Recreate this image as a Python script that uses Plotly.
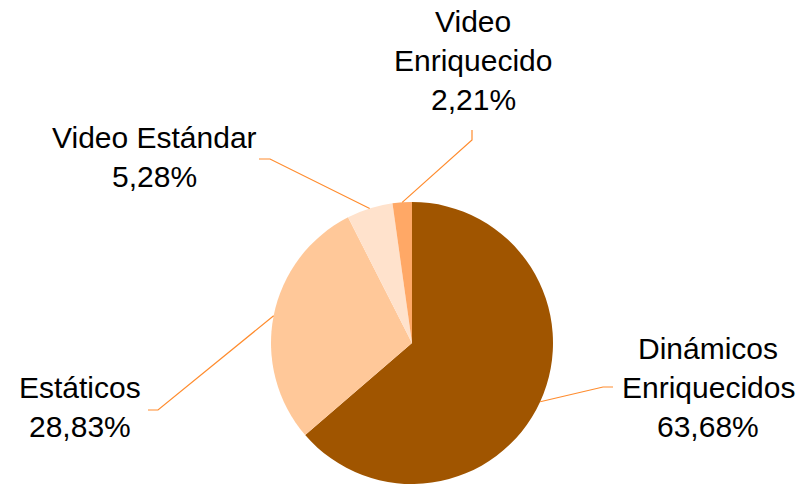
import math
import plotly.graph_objects as go

# datos del grafico
categorias = ["Dinámicos Enriquecidos", "Estáticos", "Video Estándar", "Video Enriquecido"]
porcentajes = [63.68, 28.83, 5.28, 2.21]
# como se parten las etiquetas en lineas
lineas_etiqueta = [["Dinámicos", "Enriquecidos"], ["Estáticos"], ["Video Estándar"], ["Video", "Enriquecido"]]
colores = ["#A05500", "#FFC899", "#FFE2CC", "#FFA866"]

W, H = 798, 484
FUENTE = dict(family="Liberation Sans, Arial, sans-serif", size=30, color="#000000")
COLOR_GUIA = "#FF8C2E"

# geometria del pastel (pixeles)
cx, cy, r = 412, 343, 141

# posicion de cada etiqueta: centro x, y de la primera linea, codo y punta de la guia
pos_etiquetas = [
    dict(x=708, y=348, codo=(603, 387), punta=(613, 387)),
    dict(x=80, y=387, codo=(158, 410), punta=(148, 410)),
    dict(x=154, y=137, codo=(270, 159), punta=(259, 159)),
    dict(x=473, y=22, codo=(472, 140), punta=(472, 130)),
]
interlineado = 39


def px(x, y):
    return x / W, 1 - y / H


fig = go.Figure()
fig.add_trace(go.Pie(
    labels=categorias,
    values=porcentajes,
    sort=False,
    direction="clockwise",
    rotation=0,
    marker=dict(colors=colores, line=dict(width=0)),
    textinfo="none",
    hoverinfo="label+percent",
    showlegend=False,
    domain=dict(x=[(cx - r) / W, (cx + r) / W], y=[(H - cy - r) / H, (H - cy + r) / H]),
))

anotaciones = []
formas = []
total = sum(porcentajes)
acum = 0
for nombre, val, lineas, p in zip(categorias, porcentajes, lineas_etiqueta, pos_etiquetas):
    # angulo medio de la rebanada (sentido horario desde arriba)
    ang = 2 * math.pi * (acum + val / 2) / total
    acum += val
    bx = cx + r * math.sin(ang)
    by = cy - r * math.cos(ang)

    texto = lineas + [f"{val:.2f}".replace(".", ",") + "%"]
    for i, t in enumerate(texto):
        ax_, ay_ = px(p["x"], p["y"] + i * interlineado)
        anotaciones.append(dict(
            text=t, x=ax_, y=ay_, xref="paper", yref="paper",
            xanchor="center", yanchor="middle", showarrow=False, font=FUENTE,
        ))

    x0, y0 = px(bx, by)
    x1, y1 = px(*p["codo"])
    x2, y2 = px(*p["punta"])
    formas.append(dict(
        type="path", xref="paper", yref="paper",
        path=f"M {x0},{y0} L {x1},{y1} L {x2},{y2}",
        line=dict(color=COLOR_GUIA, width=1.2),
    ))

fig.update_layout(
    width=W, height=H,
    margin=dict(l=0, r=0, t=0, b=0),
    paper_bgcolor="white",
    plot_bgcolor="white",
    annotations=anotaciones,
    shapes=formas,
)

# quitar el margen del body para que la figura ocupe toda la ventana
fig.write_html("out.html", config={"displayModeBar": False},
               post_script="document.body.style.margin='0px';")
